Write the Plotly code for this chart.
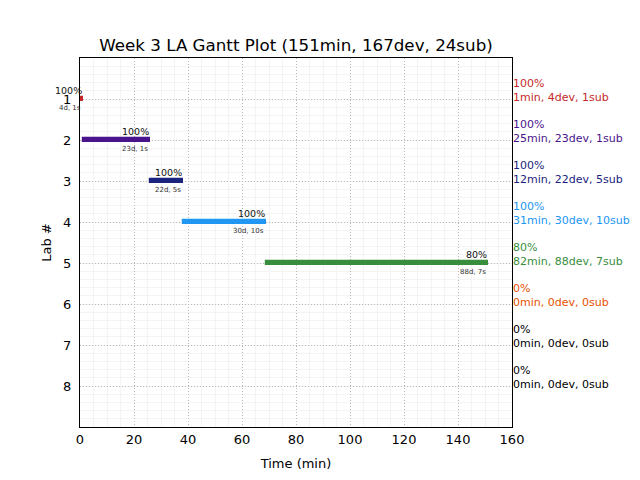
import plotly.graph_objects as go

labs = [1, 2, 3, 4, 5, 6, 7, 8]
starts = [0, 1, 26, 38, 69, 0, 0, 0]
durations = [1, 25, 12, 31, 82, 0, 0, 0]
pct = [100, 100, 100, 100, 80, 0, 0, 0]
devs = [4, 23, 22, 30, 88, 0, 0, 0]
subs = [1, 1, 5, 10, 7, 0, 0, 0]
colors = ["#c62828", "#4a148c", "#1a237e", "#2196f3", "#388e3c", "#e65100", "#000000", "#000000"]
title = "Week 3 LA Gantt Plot (151min, 167dev, 24sub)"

FONT = "DejaVu Sans"
fig = go.Figure()
for i, lab in enumerate(labs):
    if durations[i] > 0:
        fig.add_trace(go.Bar(
            x=[durations[i]], base=[starts[i]], y=[lab], orientation="h",
            width=0.08, marker=dict(color=colors[i], line=dict(width=1.2, color=colors[i])),
            showlegend=False, hoverinfo="skip"))
        end = starts[i] + durations[i]
        fig.add_annotation(x=end, y=lab, xref="x", yref="y", text=f"{pct[i]}%",
                           showarrow=False, xanchor="right", yanchor="bottom",
                           xshift=1, yshift=1, font=dict(family=FONT, size=9.5, color="#111"))
        fig.add_annotation(x=end, y=lab, xref="x", yref="y", text=f"{devs[i]}d, {subs[i]}s",
                           showarrow=False, xanchor="right", yanchor="top",
                           yshift=-3, font=dict(family=FONT, size=7, color="#333"))
    fig.add_annotation(x=1, y=lab, xref="paper", yref="y",
                       text=f"{pct[i]}%<br>{durations[i]}min, {devs[i]}dev, {subs[i]}sub",
                       showarrow=False, xanchor="left", yanchor="bottom", align="left",
                       xshift=-1, yshift=-7, font=dict(family=FONT, size=11, color=colors[i]))

fig.update_layout(
    width=640, height=480, paper_bgcolor="white", plot_bgcolor="white",
    margin=dict(l=80, r=128, t=58, b=53),
    font=dict(family=FONT, size=13, color="black"),
    title=dict(text=title, x=(80 + 512) / 2 / 640, xanchor="center", y=1 - 45 / 480,
               yanchor="middle", font=dict(family=FONT, size=16.7, color="black")),
    bargap=0,
)
fig.update_xaxes(range=[0, 160], dtick=20, tick0=0, showline=True, linecolor="black",
                 linewidth=1, mirror=True, showgrid=True, gridcolor="#b8b8b8", griddash="1px,2px",
                 gridwidth=1, zeroline=False, ticks="",
                 minor=dict(dtick=5, showgrid=True, gridcolor="#f4f4f4", gridwidth=1, griddash="solid"),
                 title=dict(text="Time (min)", font=dict(family=FONT, size=13), standoff=13),
                 tickfont=dict(family=FONT, size=13))
fig.update_yaxes(range=[9, 0], tickvals=labs, showline=True, linecolor="black",
                 linewidth=1, mirror=True, showgrid=True, gridcolor="#b8b8b8", griddash="1px,2px",
                 gridwidth=1, zeroline=False, ticks="", ticklabelstandoff=5,
                 minor=dict(dtick=0.2, showgrid=True, gridcolor="#f4f4f4", gridwidth=1, griddash="solid"),
                 title=dict(text="Lab #", font=dict(family=FONT, size=13), standoff=8),
                 tickfont=dict(family=FONT, size=13))
fig.write_html("out.html", config={"displayModeBar": False},
               post_script="document.body.style.margin='0';")
